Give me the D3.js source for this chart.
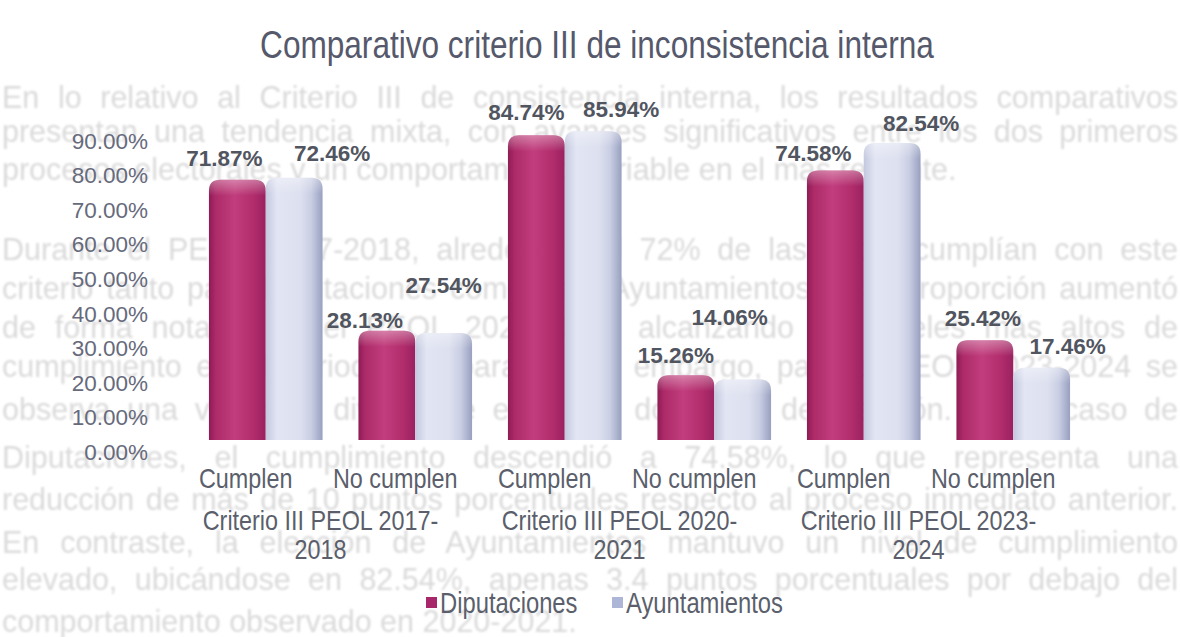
<!DOCTYPE html>
<html><head><meta charset="utf-8">
<script src="https://cdn.jsdelivr.net/npm/d3@7"></script>
<style>
html,body{margin:0;padding:0;background:#fff;}
svg{display:block;}
</style></head><body>
<svg id="chart" width="1180" height="637"></svg>
<script>
// ---- data ----
const chartTitle = "Comparativo criterio III de inconsistencia interna";
const categories = ["Cumplen", "No cumplen", "Cumplen", "No cumplen", "Cumplen", "No cumplen"];
const groupLabels = [["Criterio III PEOL 2017-", "2018"], ["Criterio III PEOL 2020-", "2021"], ["Criterio III PEOL 2023-", "2024"]];
const seriesNames = ["Diputaciones", "Ayuntamientos"];
const diputaciones = [71.87, 28.13, 84.74, 15.26, 74.58, 25.42];
const ayuntamientos = [72.46, 27.54, 85.94, 14.06, 82.54, 17.46];
const yTicks = [0, 10, 20, 30, 40, 50, 60, 70, 80, 90];

// page text printed behind the chart (shows through faintly)
const pageLines = [
  "En lo relativo al Criterio III de consistencia interna, los resultados comparativos",
  "presentan una tendencia mixta, con avances significativos entre los dos primeros",
  "procesos electorales y un comportamiento variable en el más reciente.",
  "Durante el PEOL 2017-2018, alrededor del 72% de las actas cumplían con este",
  "criterio tanto para Diputaciones como para Ayuntamientos, esta proporción aumentó",
  "de forma notable en el PEOL 2020-2021, alcanzando los niveles más altos de",
  "cumplimiento en el periodo comparado. Sin embargo, para el PEOL 2023-2024 se",
  "observa una variación divergente entre los dos tipos de elección. En el caso de",
  "Diputaciones, el cumplimiento descendió a 74.58%, lo que representa una",
  "reducción de más de 10 puntos porcentuales respecto al proceso inmediato anterior.",
  "En contraste, la elección de Ayuntamientos mantuvo un nivel de cumplimiento",
  "elevado, ubicándose en 82.54%, apenas 3.4 puntos porcentuales por debajo del",
  "comportamiento observado en 2020-2021."
];
const pageLineY = [108, 142, 180, 260, 299, 338, 377, 420, 468, 510, 553, 590, 632];
const pageLineJustified = [true, true, false, true, true, true, true, true, true, true, true, true, false];

// hand-placed data label offsets (dx, dy from the top centre of each bar)
const nudgeDip = [[-13, -22], [-22, -11], [-10, -23], [-10, -20], [-22, -17], [-2, -22]];
const nudgeAyu = [[38, -25], [0, -48], [28, -22], [-13, -62], [29, -20], [26, -22]];

// ---- setup ----
const svg = d3.select("#chart");
const SANS = "'Liberation Sans',Arial,sans-serif";
const NARROW_K = 0.82;   // horizontal squeeze that turns Arial metrics into Arial Narrow

function condense(sel, k) {
  sel.each(function () {
    const w = this.getComputedTextLength();
    d3.select(this).attr("textLength", w * k).attr("lengthAdjust", "spacingAndGlyphs");
  });
  return sel;
}

const x0 = d3.scaleBand().domain(d3.range(categories.length))
  .range([191, 1088]).paddingInner(0.24).paddingOuter(0.12);
const x1 = d3.scaleBand().domain(seriesNames).range([0, x0.bandwidth()]);
const y = d3.scaleLinear().domain([0, 100]).range([428, 82.6]);
const floorDrop = 12;     // bars stand on the front edge of the 3-D floor
const wallShift = 24;     // value axis sits on the back wall

const defs = svg.append("defs");
function hGrad(id, stops) {
  const g = defs.append("linearGradient").attr("id", id)
    .attr("x1", "0").attr("x2", "1").attr("y1", "0").attr("y2", "0");
  stops.forEach(([o, c]) => g.append("stop").attr("offset", o).attr("stop-color", c));
}
hGrad("gDip", [[0, "#8e1b55"], [0.12, "#ad2b69"], [0.45, "#c13d7d"], [0.8, "#b02c6b"], [1, "#9a2160"]]);
hGrad("gAyu", [[0, "#c3c8df"], [0.2, "#e2e5f3"], [0.6, "#dde0ef"], [0.8, "#c9cee3"], [1, "#98a0c0"]]);
const cap = defs.append("linearGradient").attr("id", "gCap")
  .attr("x1", "0").attr("x2", "0").attr("y1", "0").attr("y2", "1");
cap.append("stop").attr("offset", 0).attr("stop-color", "#fff").attr("stop-opacity", 0.35);
cap.append("stop").attr("offset", 1).attr("stop-color", "#fff").attr("stop-opacity", 0);
defs.append("filter").attr("id", "soft").append("feGaussianBlur").attr("stdDeviation", 0.8);

function barPath(x, w, top, bottom, r) {
  r = Math.min(r, (bottom - top) / 2, w / 2);
  return `M${x},${bottom} L${x},${top + r} Q${x},${top} ${x + r},${top} L${x + w - r},${top} Q${x + w},${top} ${x + w},${top + r} L${x + w},${bottom} Z`;
}

// ---- faint page text behind the chart (justified by word spacing) ----
const page = svg.append("g").attr("filter", "url(#soft)");
const pageLeft = 2, pageWidth = 1176;
pageLines.forEach((t, i) => {
  const el = page.append("text").attr("x", pageLeft).attr("y", pageLineY[i])
    .style("font-family", SANS).style("font-size", "30.5px").attr("fill", "#dadada").text(t);
  if (pageLineJustified[i]) {
    const w = el.node().getComputedTextLength();
    const gaps = (t.match(/ /g) || []).length;
    if (w < pageWidth) el.attr("word-spacing", (pageWidth - w) / gaps);
    else el.attr("textLength", pageWidth).attr("lengthAdjust", "spacingAndGlyphs");
  }
});

// ---- title ----
condense(svg.append("text").attr("x", 597).attr("y", 58).attr("text-anchor", "middle")
  .style("font-family", SANS).style("font-size", "38.5px").attr("fill", "#55596b")
  .text(chartTitle), NARROW_K);

// ---- value axis ----
const yAxis = svg.append("g").attr("transform", `translate(148,${wallShift})`)
  .call(d3.axisLeft(y).tickValues(yTicks).tickSize(0).tickPadding(0)
    .tickFormat(d => d.toFixed(2) + "%"));
yAxis.select(".domain").remove();
yAxis.selectAll("text").style("font-family", SANS).style("font-size", "22.5px")
  .attr("fill", "#666a7c");

// ---- bars ----
const series = [
  { name: seriesNames[0], values: diputaciones, fill: "url(#gDip)", nudge: nudgeDip },
  { name: seriesNames[1], values: ayuntamientos, fill: "url(#gAyu)", nudge: nudgeAyu }
];
const bars = svg.append("g");
series.forEach(s => {
  s.values.forEach((v, i) => {
    const bx = x0(i) + x1(s.name), bw = x1.bandwidth();
    const top = y(v), bottom = y(0) + floorDrop;
    bars.append("path").attr("d", barPath(bx, bw, top, bottom, 11)).attr("fill", s.fill);
    bars.append("path").attr("d", barPath(bx, bw, top, top + 16, 11)).attr("fill", "url(#gCap)");
  });
});

// ---- data labels ----
const labels = svg.append("g");
series.forEach(s => {
  s.values.forEach((v, i) => {
    const cx = x0(i) + x1(s.name) + x1.bandwidth() / 2;
    labels.append("text")
      .attr("x", cx + s.nudge[i][0]).attr("y", y(v) + s.nudge[i][1] + 8)
      .attr("text-anchor", "middle")
      .style("font-family", SANS).style("font-size", "22.5px").style("font-weight", "bold")
      .attr("fill", "#51555f").text(v.toFixed(2) + "%");
  });
});

// ---- category axis ----
const catShift = -20;
const catG = svg.append("g");
categories.forEach((c, i) => {
  condense(catG.append("text").attr("x", x0(i) + x0.bandwidth() / 2 + catShift).attr("y", 488)
    .attr("text-anchor", "middle").style("font-family", SANS).style("font-size", "28.5px")
    .attr("fill", "#5b5f6c").text(c), NARROW_K);
});
groupLabels.forEach((lines, g) => {
  const cx = (x0(2 * g) + x0(2 * g + 1)) / 2 + x0.bandwidth() / 2 + catShift;
  lines.forEach((t, k) => {
    condense(catG.append("text").attr("x", cx).attr("y", 530 + k * 29)
      .attr("text-anchor", "middle").style("font-family", SANS).style("font-size", "28.5px")
      .attr("fill", "#5b5f6c").text(t), NARROW_K);
  });
});

// ---- legend ----
const legend = svg.append("g");
const legendItems = [
  { name: seriesNames[0], x: 426, color: "#a8276a" },
  { name: seriesNames[1], x: 612, color: "#aeb6d8" }
];
legendItems.forEach(it => {
  legend.append("rect").attr("x", it.x).attr("y", 597).attr("width", 11).attr("height", 11)
    .attr("fill", it.color);
  condense(legend.append("text").attr("x", it.x + 14).attr("y", 613)
    .style("font-family", SANS).style("font-size", "29px").attr("fill", "#5b5f6c")
    .text(it.name), NARROW_K);
});
</script>
</body></html>
